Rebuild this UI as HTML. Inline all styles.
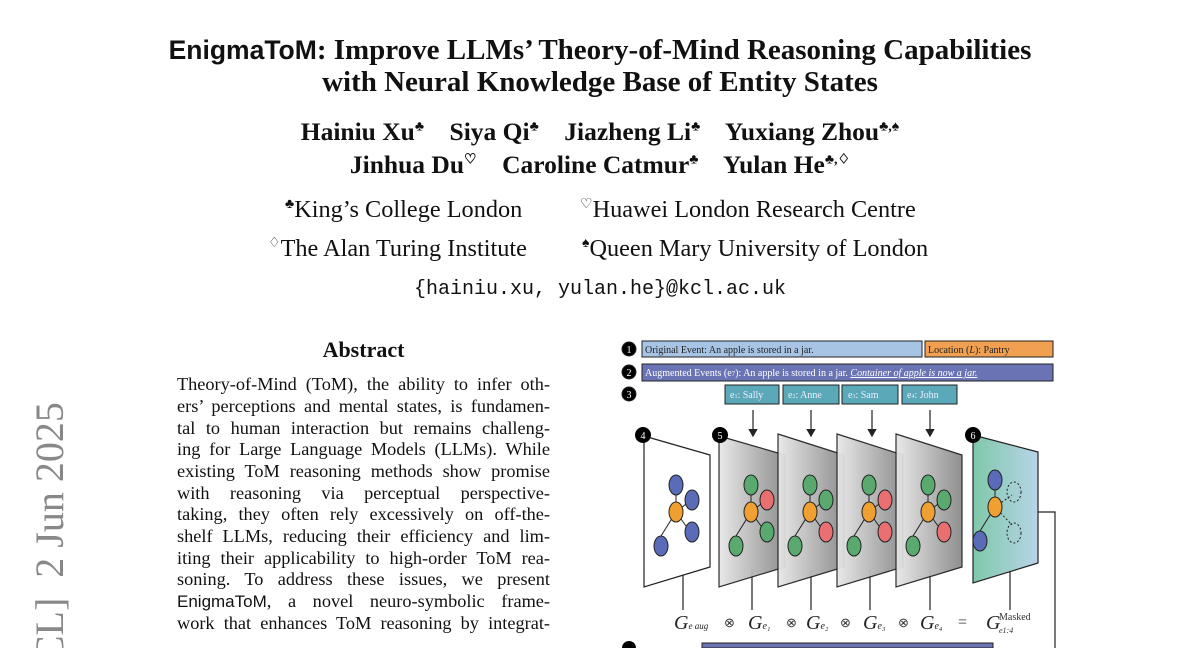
<!DOCTYPE html>
<html style="overflow:hidden;width:1200px;height:648px"><head><meta charset="utf-8"><style>
body{margin:0;width:1200px;height:648px;overflow:hidden;background:#fff;font-family:"Liberation Serif",serif;color:#111;position:relative}
.a{position:absolute;white-space:nowrap}
.c{left:0;width:1200px;text-align:center}
.t{font-weight:bold;font-size:29px}
.au{font-weight:bold;font-size:25.5px}
.af{font-size:24.3px}
.p{position:absolute;left:177px;width:373px;font-size:18.3px;text-align:justify;text-align-last:justify;white-space:nowrap}
sup{font-size:14px}
</style></head><body>
<div class="a c t" style="top:34px"><span style="font-family:'Liberation Sans',sans-serif;font-size:26.5px">EnigmaToM</span>: Improve LLMs’ Theory-of-Mind Reasoning Capabilities</div>
<div class="a c t" style="top:66px">with Neural Knowledge Base of Entity States</div>
<div class="a c au" style="top:117px">Hainiu Xu<sup>♣</sup>&nbsp;&nbsp;&nbsp; Siya Qi<sup>♣</sup>&nbsp;&nbsp;&nbsp; Jiazheng Li<sup>♣</sup>&nbsp;&nbsp;&nbsp; Yuxiang Zhou<sup>♣,♠</sup></div>
<div class="a c au" style="top:150px">Jinhua Du<sup>♡</sup>&nbsp;&nbsp;&nbsp; Caroline Catmur<sup>♣</sup>&nbsp;&nbsp;&nbsp; Yulan He<sup>♣,♢</sup></div>
<div class="a af" style="top:196px;left:285px"><sup>♣</sup>King’s College London</div>
<div class="a af" style="top:196px;left:580px"><sup>♡</sup>Huawei London Research Centre</div>
<div class="a af" style="top:235px;left:268px"><sup>♢</sup>The Alan Turing Institute</div>
<div class="a af" style="top:235px;left:582px"><sup>♠</sup>Queen Mary University of London</div>
<div class="a c" style="top:278px;font-family:'Liberation Mono',monospace;font-size:20px">{hainiu.xu, yulan.he}@kcl.ac.uk</div>
<div class="a" style="top:337px;left:177px;width:373px;text-align:center;font-weight:bold;font-size:22px">Abstract</div>
<div class="p" style="top:374px">Theory-of-Mind (ToM), the ability to infer oth-</div>
<div class="p" style="top:396px">ers’ perceptions and mental states, is fundamen-</div>
<div class="p" style="top:418px">tal to human interaction but remains challeng-</div>
<div class="p" style="top:439px">ing for Large Language Models (LLMs). While</div>
<div class="p" style="top:461px">existing ToM reasoning methods show promise</div>
<div class="p" style="top:483px">with reasoning via perceptual perspective-</div>
<div class="p" style="top:504px">taking, they often rely excessively on off-the-</div>
<div class="p" style="top:526px">shelf LLMs, reducing their efficiency and lim-</div>
<div class="p" style="top:548px">iting their applicability to high-order ToM rea-</div>
<div class="p" style="top:569px">soning. To address these issues, we present</div>
<div class="p" style="top:591px"><span style="font-family:'Liberation Sans',sans-serif;font-size:17px">EnigmaToM</span>, a novel neuro-symbolic frame-</div>
<div class="p" style="top:613px">work that enhances ToM reasoning by integrat-</div>
<div style="position:absolute;left:0;top:0;width:120px;height:648px;overflow:hidden">
<div class="a" style="left:30px;top:402px;height:246px;overflow:hidden;writing-mode:vertical-rl;transform:rotate(180deg);transform-origin:50% 50%;font-size:40px;color:#888;line-height:40px;direction:rtl">arXiv:2503.03340v2 [cs.CL]&nbsp; 2 Jun 2025</div>
</div>
<svg class="a" style="left:0;top:0" width="1200" height="648" font-family="Liberation Serif,serif">
<defs>
<linearGradient id="g" x1="0" x2="1"><stop offset="0" stop-color="#e8e8e8"/><stop offset="1" stop-color="#8a8a8a"/></linearGradient>
<linearGradient id="h" x1="0" x2="1"><stop offset="0" stop-color="#7fc8a8"/><stop offset="1" stop-color="#b8d4ea"/></linearGradient>
<marker id="m" markerWidth="8" markerHeight="8" refX="6" refY="4" orient="auto"><path d="M0,0 L7,4 L0,8 z" fill="#222"/></marker>
<g id="ln"><line x1="33" y1="52" x2="33" y2="25" stroke="#222"/><line x1="33" y1="52" x2="43" y2="44" stroke="#222"/><line x1="33" y1="52" x2="43" y2="66" stroke="#222"/><line x1="33" y1="52" x2="18" y2="76" stroke="#222"/></g>
</defs>
<g stroke="#222" stroke-width="1">
<circle cx="629" cy="349" r="7" fill="#000"/><circle cx="629" cy="372" r="7" fill="#000"/><circle cx="629" cy="394" r="7" fill="#000"/>
<rect x="642" y="341" width="280" height="16" fill="#a8c4e4"/>
<rect x="925" y="341" width="128" height="16" fill="#f0a050"/>
<rect x="642" y="364" width="411" height="17" fill="#6a74b4"/>
<rect x="725" y="385" width="54" height="19" fill="#5aa8b8"/>
<rect x="783" y="385" width="56" height="19" fill="#5aa8b8"/>
<rect x="842" y="385" width="56" height="19" fill="#5aa8b8"/>
<rect x="902" y="385" width="55" height="19" fill="#5aa8b8"/>
</g>
<g font-size="10" fill="#fff" stroke="none">
<text x="629" y="353" text-anchor="middle">1</text><text x="629" y="376" text-anchor="middle">2</text><text x="629" y="398" text-anchor="middle">3</text>
</g>
<text x="645" y="353" font-size="10" fill="#222">Original Event: An apple is stored in a jar.</text>
<text x="928" y="353" font-size="10" fill="#222">Location (<tspan font-style="italic">L</tspan>): Pantry</text>
<text x="645" y="376" font-size="10" fill="#fff">Augmented Events (e<tspan font-size="7">7</tspan>): An apple is stored in a jar. <tspan font-style="italic" text-decoration="underline">Container of apple is now a jar.</tspan></text>
<g font-size="10" fill="#eef"><text x="730" y="398">e<tspan font-size="6">1</tspan>: Sally</text><text x="788" y="398">e<tspan font-size="6">2</tspan>: Anne</text><text x="848" y="398">e<tspan font-size="6">3</tspan>: Sam</text><text x="907" y="398">e<tspan font-size="6">4</tspan>: John</text></g>
<g stroke="#222" stroke-width="1.2"><line x1="753" y1="410" x2="753" y2="436" marker-end="url(#m)"/><line x1="811" y1="410" x2="811" y2="436" marker-end="url(#m)"/><line x1="872" y1="410" x2="872" y2="436" marker-end="url(#m)"/><line x1="930" y1="410" x2="930" y2="436" marker-end="url(#m)"/></g>
<g stroke="#222" stroke-width="1.2">
<line x1="683" y1="570" x2="683" y2="610"/><line x1="752" y1="570" x2="752" y2="610"/><line x1="811" y1="570" x2="811" y2="610"/><line x1="870" y1="570" x2="870" y2="610"/><line x1="930" y1="570" x2="930" y2="610"/><line x1="1010" y1="565" x2="1010" y2="610"/>
<polyline points="1038,512 1055,512 1055,648" fill="none"/>
<polygon points="644,436 710,455 710,567 644,587" fill="#fff"/>
<polygon points="719,436 785,455 785,567 719,587" fill="url(#g)" opacity=".95"/>
<polygon points="778,434 844,455 844,567 778,587" fill="url(#g)" opacity=".95"/>
<polygon points="837,434 903,455 903,567 837,587" fill="url(#g)" opacity=".95"/>
<polygon points="896,434 962,455 962,567 896,587" fill="url(#g)" opacity=".95"/>
<polygon points="973,435 1038,452 1038,563 973,583" fill="url(#h)"/>
</g>
<g stroke="#222" stroke-width="1">
<g transform="translate(643,460)"><use href="#ln"/><ellipse cx="33" cy="25" rx="7" ry="10" fill="#5a6cb8"/><ellipse cx="49" cy="40" rx="7" ry="10" fill="#5a6cb8"/><ellipse cx="33" cy="52" rx="7" ry="10" fill="#f0a030"/><ellipse cx="49" cy="72" rx="7" ry="10" fill="#5a6cb8"/><ellipse cx="18" cy="86" rx="7" ry="10" fill="#5a6cb8"/></g>
<g transform="translate(718,460)"><use href="#ln"/><ellipse cx="33" cy="25" rx="7" ry="10" fill="#5aaa70"/><ellipse cx="49" cy="40" rx="7" ry="10" fill="#e87070"/><ellipse cx="33" cy="52" rx="7" ry="10" fill="#f0a030"/><ellipse cx="49" cy="72" rx="7" ry="10" fill="#5aaa70"/><ellipse cx="18" cy="86" rx="7" ry="10" fill="#5aaa70"/></g>
<g transform="translate(777,460)"><use href="#ln"/><ellipse cx="33" cy="25" rx="7" ry="10" fill="#5aaa70"/><ellipse cx="49" cy="40" rx="7" ry="10" fill="#5aaa70"/><ellipse cx="33" cy="52" rx="7" ry="10" fill="#f0a030"/><ellipse cx="49" cy="72" rx="7" ry="10" fill="#e87070"/><ellipse cx="18" cy="86" rx="7" ry="10" fill="#5aaa70"/></g>
<g transform="translate(836,460)"><use href="#ln"/><ellipse cx="33" cy="25" rx="7" ry="10" fill="#5aaa70"/><ellipse cx="49" cy="40" rx="7" ry="10" fill="#e87070"/><ellipse cx="33" cy="52" rx="7" ry="10" fill="#f0a030"/><ellipse cx="49" cy="72" rx="7" ry="10" fill="#e87070"/><ellipse cx="18" cy="86" rx="7" ry="10" fill="#5aaa70"/></g>
<g transform="translate(895,460)"><use href="#ln"/><ellipse cx="33" cy="25" rx="7" ry="10" fill="#5aaa70"/><ellipse cx="49" cy="40" rx="7" ry="10" fill="#5aaa70"/><ellipse cx="33" cy="52" rx="7" ry="10" fill="#f0a030"/><ellipse cx="49" cy="72" rx="7" ry="10" fill="#e87070"/><ellipse cx="18" cy="86" rx="7" ry="10" fill="#5aaa70"/></g>
<g transform="translate(962,455)"><line x1="33" y1="52" x2="33" y2="25"/><line x1="33" y1="52" x2="18" y2="76"/><line x1="33" y1="52" x2="50" y2="40" stroke-dasharray="2,2"/><line x1="33" y1="52" x2="50" y2="70" stroke-dasharray="2,2"/><ellipse cx="33" cy="25" rx="7" ry="10" fill="#5a6cb8"/><ellipse cx="52" cy="37" rx="7" ry="10" fill="none" stroke-dasharray="2,2"/><ellipse cx="33" cy="52" rx="7" ry="10" fill="#f0a030"/><ellipse cx="52" cy="78" rx="7" ry="10" fill="none" stroke-dasharray="2,2"/><ellipse cx="18" cy="86" rx="7" ry="10" fill="#5a6cb8"/></g>
</g>
<g fill="#000"><circle cx="643" cy="435" r="8"/><circle cx="720" cy="435" r="8"/><circle cx="973" cy="435" r="8"/><path d="M622,648 A7,7 0 0 1 636,648 Z"/></g>
<g font-size="10" fill="#fff" text-anchor="middle"><text x="643" y="439">4</text><text x="720" y="439">5</text><text x="973" y="439">6</text></g>
<rect x="702" y="643" width="291" height="5" fill="#6a74b4" stroke="#222"/>
<g font-size="20" font-style="italic" fill="#222">
<text x="674" y="629">G<tspan font-size="9">e aug</tspan></text>
<text x="748" y="629">G<tspan font-size="10">e₁</tspan></text>
<text x="806" y="629">G<tspan font-size="10">e₂</tspan></text>
<text x="863" y="629">G<tspan font-size="10">e₃</tspan></text>
<text x="920" y="629">G<tspan font-size="10">e₄</tspan></text>
<text x="986" y="629">G</text>
</g>
<g font-size="13" fill="#333"><text x="724" y="627">⊗</text><text x="786" y="627">⊗</text><text x="840" y="627">⊗</text><text x="898" y="627">⊗</text><text x="958" y="627" font-size="16">=</text><text x="999" y="620" font-size="10">Masked</text><text x="999" y="633" font-size="8" font-style="italic">e1:4</text></g>
</svg>
</body></html>
